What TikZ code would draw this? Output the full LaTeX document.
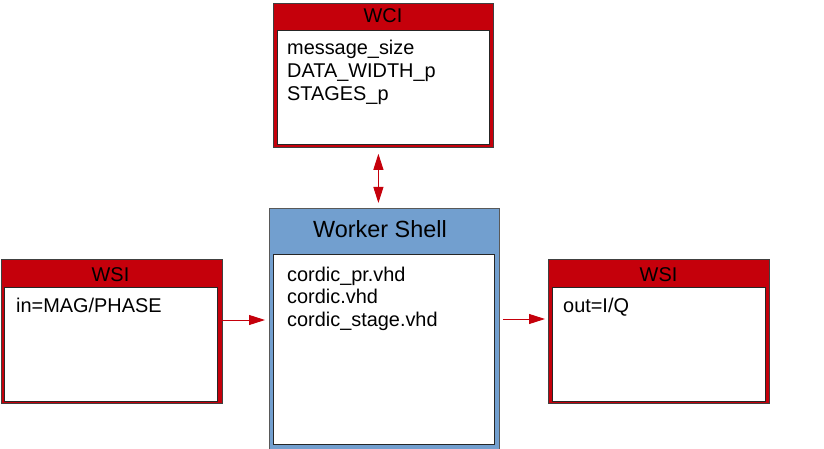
\documentclass[tikz,border=0pt]{standalone}
\usepackage{fontspec}
\setmainfont{Liberation Sans}
\usetikzlibrary{arrows.meta}

\definecolor{portred}{HTML}{C5000B}
\definecolor{shellblue}{HTML}{729FCF}

\begin{document}
\begin{tikzpicture}[x=1pt, y=-1pt,
            every node/.style={font=\fontsize{19.9}{22.7}\selectfont}, % Sans text everywhere
            portbox/.style={draw=black!75, fill=portred, line width=0.8pt, inner sep=0pt, anchor=north west},
            shellbox/.style={draw=black!65, fill=shellblue, line width=0.8pt, inner sep=0pt, anchor=north west},
            bodybox/.style={draw=black!85, fill=white, line width=0.8pt, inner sep=0pt, anchor=north west},
            boxtitle/.style={anchor=base, inner sep=0pt},
            boxitem/.style={anchor=base west, inner sep=0pt},
            link/.style={draw=portred, line width=0.9pt, -{Triangle[length=16pt,width=10pt]}}
            ]
    \useasboundingbox (0,0) rectangle (824,449);

    % Control interface on top
    \node[portbox, minimum width=220pt, minimum height=144pt] (wci) at (273,3) {};
    \node[bodybox, minimum width=212pt, minimum height=114pt] (wcibody) at (277,30) {};
    \node[boxtitle] (wcititle) at (383,23) {WCI};
    \foreach \txt [count=\i] in {message\_size, DATA\_WIDTH\_p, STAGES\_p}
        \node[boxitem] (wciitem\i) at (287, 32.3+22.7*\i) {\txt};

    % Input stream interface
    \node[portbox, minimum width=221pt, minimum height=144pt] (wsiin) at (0.5,259) {};
    \node[bodybox, minimum width=213pt, minimum height=114pt] (wsiinbody) at (4,287) {};
    \node[boxtitle] (wsiintitle) at (110.5,281) {WSI};
    \node[boxitem] (wsiinitem) at (16,312) {in=MAG/PHASE};

    % Worker shell in the middle
    \node[shellbox, minimum width=230pt, minimum height=242pt] (shell) at (269,208) {};
    \node[bodybox, minimum width=221pt, minimum height=190pt] (shellbody) at (273,254) {};
    \node[boxtitle, font=\fontsize{23.4}{27}\selectfont] (shelltitle) at (380,237) {Worker Shell};
    \foreach \txt [count=\i] in {cordic\_pr.vhd, cordic.vhd, cordic\_stage.vhd}
        \node[boxitem] (shellitem\i) at (287, 258.3+22.7*\i) {\txt};

    % Output stream interface
    \node[portbox, minimum width=221pt, minimum height=144pt] (wsiout) at (548,259) {};
    \node[bodybox, minimum width=213pt, minimum height=114pt] (wsioutbody) at (552,287) {};
    \node[boxtitle] (wsiouttitle) at (658.5,281) {WSI};
    \node[boxitem] (wsioutitem) at (563,312) {out=I/Q};

    % Connections
    \draw[link, {Triangle[length=16pt,width=10pt]}-{Triangle[length=16pt,width=10pt]}, shorten <=6pt, shorten >=5pt]
        ([xshift=-5pt]wci.south) -- ([xshift=-5pt]wci.south |- shell.north);
    \draw[link, shorten >=4pt] ([yshift=-61pt]wsiin.north east) -- ([yshift=-61pt]wsiin.north east -| shell.west);
    \draw[link, shorten <=3pt, shorten >=3pt] ([yshift=-60pt]wsiout.north west -| shell.east) -- ([yshift=-60pt]wsiout.north west);

\end{tikzpicture}
\end{document}
